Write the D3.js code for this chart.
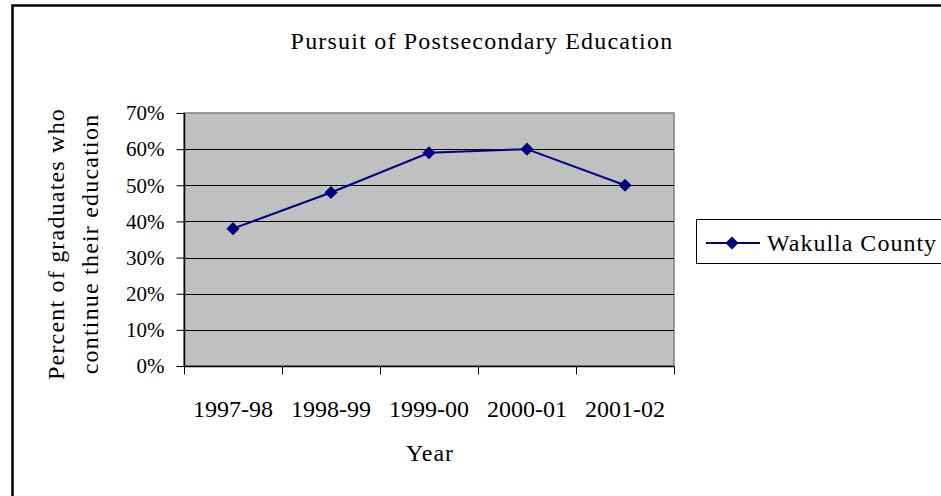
<!DOCTYPE html>
<html>
<head>
<meta charset="utf-8">
<script src="https://cdnjs.cloudflare.com/ajax/libs/d3/7.8.5/d3.min.js"></script>
<style>
  body { margin: 0; background: #fff; }
  text { font-family: "Liberation Serif", "Times New Roman", serif; fill: #000; }
</style>
</head>
<body>
<div id="chart"></div>
<script>
var years = ["1997-98", "1998-99", "1999-00", "2000-01", "2001-02"];
var wakulla = [0.38, 0.48, 0.59, 0.60, 0.50];
var yTicks = [0, 0.1, 0.2, 0.3, 0.4, 0.5, 0.6, 0.7];
var seriesName = "Wakulla County";

var width = 941, height = 496;
var plotLeft = 184, plotRight = 674, plotTop = 113, plotBottom = 366;
var navy = "#000080";

var svg = d3.select("#chart").append("svg")
	.attr("width", width)
	.attr("height", height);

// outer chart border (runs off the right and bottom edge)
svg.append("rect")
	.attr("x", 12.5)
	.attr("y", 5.5)
	.attr("width", 960)
	.attr("height", 520)
	.attr("fill", "#fff")
	.attr("stroke", "#000")
	.attr("stroke-width", 2.5);

var x = d3.scaleBand().domain(years).range([plotLeft, plotRight]).padding(0);
var y = d3.scaleLinear().domain([0, 0.7]).range([plotBottom, plotTop]);

//plot area
svg.append("rect")
	.attr("x", plotLeft)
	.attr("y", plotTop)
	.attr("width", plotRight - plotLeft)
	.attr("height", plotBottom - plotTop)
	.attr("fill", "#c0c0c0")
	.attr("stroke", "#808080")
	.attr("stroke-width", 1.5);

//gridlines
svg.append("g").selectAll("line")
	.data(yTicks.filter(function(d){ return d > 0 && d < 0.7; }))
	.enter().append("line")
	.attr("x1", plotLeft)
	.attr("x2", plotRight)
	.attr("y1", function(d){ return Math.round(y(d)) + 0.5; })
	.attr("y2", function(d){ return Math.round(y(d)) + 0.5; })
	.attr("stroke", "#000")
	.attr("stroke-width", 1);

//y axis
var yAxis = d3.axisLeft(y)
	.tickValues(yTicks)
	.tickFormat(d3.format(".0%"))
	.tickSize(8)
	.tickPadding(12);
var gy = svg.append("g")
	.attr("transform", "translate(" + (plotLeft + 0.5) + ",0)")
	.call(yAxis);
gy.select(".domain").attr("stroke", "#000").attr("stroke-width", 1.5).attr("d", "M0," + plotTop + "V" + plotBottom);
gy.selectAll(".tick line").attr("stroke", "#000");
gy.selectAll(".tick text")
	.attr("font-size", 21)
	.attr("font-family", "Liberation Serif")
	.attr("fill", "#000");

//x axis: ticks between categories
var xAxis = d3.axisBottom(x).tickSize(0).tickPadding(33);
var gx = svg.append("g")
	.attr("transform", "translate(0," + (plotBottom + 0.5) + ")")
	.call(xAxis);
gx.select(".domain").attr("stroke", "#000").attr("stroke-width", 1.5).attr("d", "M" + plotLeft + ",0H" + plotRight);
gx.selectAll(".tick text")
	.attr("font-size", 24)
	.attr("font-family", "Liberation Serif")
	.attr("fill", "#000");
var bounds = years.map(function(d){ return x(d); }).concat([x(years[years.length - 1]) + x.bandwidth()]);
gx.selectAll(".sep").data(bounds).enter().append("line")
	.attr("class", "sep")
	.attr("x1", function(d){ return Math.round(d) + 0.5; })
	.attr("x2", function(d){ return Math.round(d) + 0.5; })
	.attr("y1", 0)
	.attr("y2", 8)
	.attr("stroke", "#000");

//series line
var line = d3.line()
	.x(function(d, i){ return x(years[i]) + x.bandwidth() / 2; })
	.y(function(d){ return y(d); });

svg.append("path")
	.datum(wakulla)
	.attr("d", line)
	.attr("fill", "none")
	.attr("stroke", navy)
	.attr("stroke-width", 2);

var diamond = d3.symbol().type(d3.symbolDiamond2).size(110);
svg.append("g").selectAll("path")
	.data(wakulla)
	.enter().append("path")
	.attr("d", diamond)
	.attr("transform", function(d, i){ return "translate(" + (x(years[i]) + x.bandwidth() / 2) + "," + y(d) + ")"; })
	.attr("fill", navy);

//title and axis labels
svg.append("text")
	.attr("x", 482)
	.attr("y", 49)
	.attr("text-anchor", "middle")
	.attr("font-size", 24)
	.attr("letter-spacing", 1.2)
	.text("Pursuit of Postsecondary Education");

svg.append("text")
	.attr("x", 430)
	.attr("y", 461)
	.attr("text-anchor", "middle")
	.attr("font-size", 24)
	.attr("letter-spacing", 1)
	.text("Year");

var yLabel = svg.append("text")
	.attr("transform", "translate(64,244) rotate(-90)")
	.attr("text-anchor", "middle")
	.attr("font-size", 24)
	.attr("letter-spacing", 1.2);
yLabel.append("tspan").attr("x", 0).attr("dy", 0).text("Percent of graduates who");
yLabel.append("tspan").attr("x", 0).attr("dy", 34).text("continue their education");

//legend
var legend = svg.append("g").attr("transform", "translate(696,219)");
legend.append("rect")
	.attr("x", 0.5)
	.attr("y", 0.5)
	.attr("width", 260)
	.attr("height", 44)
	.attr("fill", "#fff")
	.attr("stroke", "#000")
	.attr("stroke-width", 1);
legend.append("line")
	.attr("x1", 10)
	.attr("x2", 64)
	.attr("y1", 24)
	.attr("y2", 24)
	.attr("stroke", navy)
	.attr("stroke-width", 2);
legend.append("path")
	.attr("d", diamond)
	.attr("transform", "translate(36,24)")
	.attr("fill", navy);
legend.append("text")
	.attr("x", 71)
	.attr("y", 32)
	.attr("font-size", 24)
	.attr("letter-spacing", 1)
	.text(seriesName);
</script>
</body>
</html>
